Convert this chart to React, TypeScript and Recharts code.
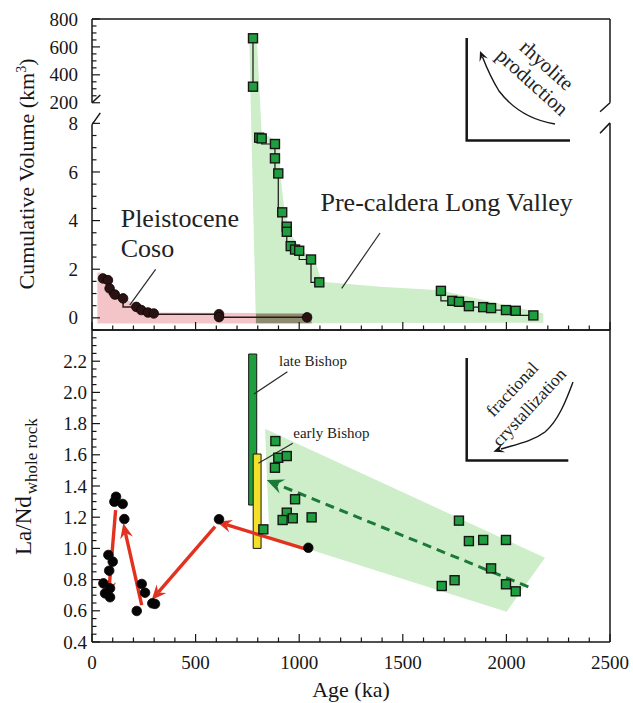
import React from "react";
import {
  ComposedChart,
  XAxis,
  YAxis,
  Area,
  Line,
  Scatter,
  ReferenceLine,
  ReferenceArea,
} from "recharts";

const INK = "#161616";
const SERIF = '"Liberation Serif", "Times New Roman", Times, serif';
const GREEN = "#1f9e3f";
const GREEN_FIELD = "#cdeec9";
const PINK_FIELD = "#f3c5c8";
const OVERLAP = "#8f8b6e";
const RED = "#e2321f";
const DARK_GREEN = "#1c7a38";
const YELLOW = "#f4e02a";

// ---------- top panel: cumulative volume (km3) vs age (ka)
const cosoVolAge = [53, 77, 85, 110, 150, 214, 238, 270, 298, 613, 613, 1038];
const cosoVol = [1.62, 1.55, 1.21, 0.96, 0.8, 0.45, 0.32, 0.22, 0.18, 0.15, 0.03, 0.02];

const bishopVolAge = [777, 777];
const bishopVol = [662, 315];
const lvVolAgeA = [807, 819, 883, 883, 899, 918, 940, 940, 959, 980, 1000, 1057, 1097];
const lvVolA = [7.41, 7.38, 7.15, 6.56, 5.94, 4.34, 3.75, 3.54, 2.95, 2.81, 2.76, 2.4, 1.46];
const lvVolAgeB = [1684, 1739, 1771, 1819, 1888, 1926, 1998, 2045, 2130];
const lvVolB = [1.11, 0.7, 0.66, 0.48, 0.44, 0.4, 0.32, 0.29, 0.1];

const lvBandAge = [759, 791, 795, 819, 907, 908, 931, 956, 1012, 1076, 1109, 1390, 1680, 2178];
const lvBandLow = [650, -0.22, -0.22, -0.22, -0.22, -0.22, -0.22, -0.22, -0.22, -0.22, -0.22, -0.21, -0.21, -0.2];
const lvBandHigh = [650, 668, 670, 7.59, 7.24, 5.94, 4.29, 3.47, 2.78, 2.37, 1.48, 1.28, 1.14, 0.18];

const cosoBandAge = [26, 55, 90, 150, 215, 300, 1060];
const cosoBandHigh = [1.87, 1.85, 1.35, 0.85, 0.5, 0.22, 0.18];
const overlapAge = [791, 1060];
const overlapHigh = [0.18, 0.18];

// ---------- bottom panel: La/Nd (whole rock) vs age (ka)
const cosoLaNdAge = [116, 108, 148, 156, 79, 100, 83, 55, 87, 63, 87, 240, 256, 216, 291, 304, 613, 1044];
const cosoLaNd = [1.331, 1.299, 1.285, 1.188, 0.958, 0.915, 0.857, 0.776, 0.744, 0.712, 0.687, 0.772, 0.716, 0.599, 0.648, 0.644, 1.187, 1.004];

const lvLaNdAge = [885, 899, 883, 940, 980, 940, 920, 969, 1060, 827, 1771, 1819, 1888, 1998, 1926, 1750, 1688, 1998, 2045];
const lvLaNd = [1.688, 1.581, 1.517, 1.592, 1.315, 1.229, 1.182, 1.193, 1.199, 1.122, 1.178, 1.047, 1.054, 1.054, 0.872, 0.796, 0.759, 0.77, 0.725];

const lvFieldAge = [835, 856, 2001, 2186];
const lvFieldLow = [1.765, 1.075, 0.594, 0.94];
const lvFieldHigh = [1.765, 1.754, 1.053, 0.94];

const lateBishopAge = [756, 795];
const lateBishopLaNd = [1.278, 2.246];
const earlyBishopAge = [778, 816];
const earlyBishopLaNd = [1.0, 1.605];

const redArrowFrom = [[114, 1.246], [240, 0.637], [594, 1.139], [1036, 0.994]];
const redArrowTo = [[79, 0.69], [151, 1.161], [288, 0.669], [602, 1.171]];
const trendFrom = [2106, 0.754];
const trendTo = [843, 1.438];

// ---------- broken volume axis: lower 0-8.5 linear, upper 139-800 compressed
const BREAK_LO = 8.5;
const BREAK_HI = 139.4;
const UPPER_K = 0.1395 / 24.3;
const tv = (v: number) => (v <= BREAK_LO ? v : BREAK_LO + (v - BREAK_HI) * UPPER_K);
const vt = (t: number) => (t <= BREAK_LO ? t : BREAK_HI + (t - BREAK_LO) / UPPER_K);
const VOL_TOP = tv(800);

const steps = (from: number, to: number, step: number) =>
  Array.from({ length: Math.round((to - from) / step) + 1 }, (_, i) => +(from + i * step).toFixed(4));
const isMult = (v: number, m: number) => Math.abs(v / m - Math.round(v / m)) < 1e-4;

const ageTicks = steps(0, 2500, 100);
const volTicks = [...steps(0, 8, 0.5), ...steps(200, 800, 50).map(tv)];
const laNdTicks = steps(0.4, 2.4, 0.05);

const rows = (xs: number[], ys: number[], f = (v: number) => v) => xs.map((x, i) => ({ x, y: f(ys[i]) }));
const bandRows = (xs: number[], lo: number[], hi: number[], f = (v: number) => v) =>
  xs.map((x, i) => ({ x, range: [f(lo[i]), f(hi[i])] }));

type Side = "left" | "right" | "top" | "bottom";
function makeTick(side: Side, isMajor: (v: number) => boolean, label?: (v: number) => string | null, gap = 0) {
  return function Tick(props: any) {
    const { x, y, payload } = props;
    const v = payload.value;
    const major = isMajor(v);
    const len = major ? 8 : 4.5;
    let x2 = x;
    let y2 = y;
    if (side === "left") x2 = x + len;
    else if (side === "right") x2 = x - len;
    else if (side === "top") y2 = y + len;
    else y2 = y - len;
    const txt = label && major ? label(v) : null;
    return (
      <g>
        <line x1={x} y1={y} x2={x2} y2={y2} stroke={INK} strokeWidth={1.2} />
        {txt != null && side === "left" && (
          <text x={x - gap} y={y} dy="0.35em" textAnchor="end" fontFamily={SERIF} fontSize={19} fill={INK}>
            {txt}
          </text>
        )}
        {txt != null && side === "bottom" && (
          <text x={x} y={y + gap} textAnchor="middle" fontFamily={SERIF} fontSize={19} fill={INK}>
            {txt}
          </text>
        )}
      </g>
    );
  };
}

function arrowShape(color: string, width: number, head: number, half: number, notch: number, dash?: string) {
  return function ArrowLine(p: any) {
    const { x1, y1, x2, y2 } = p;
    const L = Math.hypot(x2 - x1, y2 - y1) || 1;
    const ux = (x2 - x1) / L;
    const uy = (y2 - y1) / L;
    const bx = x2 - ux * head;
    const by = y2 - uy * head;
    const pts = [
      [x2, y2],
      [bx - uy * half, by + ux * half],
      [x2 - ux * notch, y2 - uy * notch],
      [bx + uy * half, by - ux * half],
    ]
      .map((q) => q.join(","))
      .join(" ");
    return (
      <g>
        <line x1={x1} y1={y1} x2={x2 - ux * notch} y2={y2 - uy * notch} stroke={color} strokeWidth={width} strokeDasharray={dash} />
        <polygon points={pts} fill={color} />
      </g>
    );
  };
}

function headAt(tx: number, ty: number, fx: number, fy: number, len: number, half: number) {
  const L = Math.hypot(tx - fx, ty - fy);
  const ux = (tx - fx) / L;
  const uy = (ty - fy) / L;
  const bx = tx - ux * len;
  const by = ty - uy * len;
  return `${tx},${ty} ${bx - uy * half},${by + ux * half} ${tx - ux * len * 0.6},${ty - uy * len * 0.6} ${bx + uy * half},${by - ux * half}`;
}

const Square = (props: any) => {
  const { cx, cy } = props;
  return <rect x={cx - 4.5} y={cy - 4.5} width={9} height={9} fill={GREEN} stroke={INK} strokeWidth={1.4} />;
};
const cosoDot = (fill: string) => (props: any) => <circle cx={props.cx} cy={props.cy} r={4.8} fill={fill} stroke="#0d0505" strokeWidth={0.8} />;

const leader = { stroke: "#2a2a2a", strokeWidth: 1.2 };

function VolumePanel() {
  const xTickTop = makeTick("top", (v) => v % 500 === 0);
  const xTickBottom = makeTick("bottom", (v) => v % 500 === 0);
  const majorVol = (t: number) => (t <= BREAK_LO ? isMult(t, 2) : isMult(Math.round(vt(t)), 200));
  const yTickLeft = makeTick("left", majorVol, (t) => String(Math.round(vt(t))), 14);
  const yTickRight = makeTick("right", majorVol);
  const frame = (a: [number, number], b: [number, number]) => (
    <ReferenceLine
      xAxisId="b"
      yAxisId="l"
      ifOverflow="visible"
      segment={[{ x: a[0], y: a[1] }, { x: b[0], y: b[1] }]}
      stroke={INK}
      strokeWidth={1.5}
    />
  );
  return (
    <ComposedChart width={633} height={331} margin={{ top: 18, right: 22, bottom: 0, left: 0 }}>
      <XAxis xAxisId="t" orientation="top" dataKey="x" type="number" domain={[0, 2500]} ticks={ageTicks} interval={0}
        height={1} tickSize={0} tickMargin={0} tickLine={false} tick={xTickTop} axisLine={{ stroke: INK, strokeWidth: 1.5 }} />
      <XAxis xAxisId="b" orientation="bottom" dataKey="x" type="number" domain={[0, 2500]} ticks={ageTicks} interval={0}
        height={1} tickSize={0} tickMargin={0} tickLine={false} tick={xTickBottom} axisLine={{ stroke: INK, strokeWidth: 1.5 }} />
      <YAxis yAxisId="l" dataKey="y" type="number" domain={[-0.5, VOL_TOP]} ticks={volTicks} interval={0} width={92}
        tickSize={0} tickMargin={0} tickLine={false} tick={yTickLeft} axisLine={false} />
      <YAxis yAxisId="r" orientation="right" dataKey="y" type="number" domain={[-0.5, VOL_TOP]} ticks={volTicks} interval={0}
        width={1} tickSize={0} tickMargin={0} tickLine={false} tick={yTickRight} axisLine={false} />

      <Area xAxisId="b" yAxisId="l" data={bandRows(cosoBandAge, cosoBandAge.map(() => -0.23), cosoBandHigh)} dataKey="range"
        type="linear" stroke="none" fill={PINK_FIELD} fillOpacity={1} dot={false} activeDot={false} isAnimationActive={false} />
      <Area xAxisId="b" yAxisId="l" data={bandRows(lvBandAge, lvBandLow, lvBandHigh, tv)} dataKey="range"
        type="linear" stroke="none" fill={GREEN_FIELD} fillOpacity={1} dot={false} activeDot={false} isAnimationActive={false} />
      <Area xAxisId="b" yAxisId="l" data={bandRows(overlapAge, [-0.22, -0.22], overlapHigh)} dataKey="range"
        type="linear" stroke="none" fill={OVERLAP} fillOpacity={1} dot={false} activeDot={false} isAnimationActive={false} />

      {frame([0, -0.5], [0, 7.95])}
      {frame([0, tv(200)], [0, VOL_TOP])}
      {frame([2500, -0.5], [2500, 8.0])}
      {frame([2500, tv(200)], [2500, VOL_TOP])}
      {frame([0, 7.95], [40, 8.43])}
      {frame([0, tv(200)], [40, tv(200) + 0.32])}
      {frame([2452, 7.59], [2500, 8.02])}
      {frame([2452, 8.48], [2500, tv(200)])}

      <ReferenceLine xAxisId="b" yAxisId="l" ifOverflow="visible" segment={[{ x: 307, y: 1.99 }, { x: 182, y: 0.52 }]} {...leader} />
      <ReferenceLine xAxisId="b" yAxisId="l" ifOverflow="visible" segment={[{ x: 1390, y: 3.49 }, { x: 1205, y: 1.21 }]} {...leader} />

      <Line xAxisId="b" yAxisId="l" data={rows(cosoVolAge, cosoVol)} dataKey="y" type="stepBefore" stroke="#2b1a1a"
        strokeWidth={1.5} dot={false} activeDot={false} isAnimationActive={false} />
      <Line xAxisId="b" yAxisId="l" data={rows(bishopVolAge, bishopVol, tv)} dataKey="y" type="linear" stroke={INK}
        strokeWidth={1.2} dot={false} activeDot={false} isAnimationActive={false} />
      <Line xAxisId="b" yAxisId="l" data={rows(lvVolAgeA, lvVolA)} dataKey="y" type="stepBefore" stroke={INK}
        strokeWidth={1.2} dot={false} activeDot={false} isAnimationActive={false} />
      <Line xAxisId="b" yAxisId="l" data={rows(lvVolAgeB, lvVolB)} dataKey="y" type="stepBefore" stroke={INK}
        strokeWidth={1.2} dot={false} activeDot={false} isAnimationActive={false} />

      <Scatter xAxisId="b" yAxisId="l" data={rows(cosoVolAge, cosoVol)} shape={cosoDot("#2a1212")} isAnimationActive={false} />
      <Scatter xAxisId="b" yAxisId="l" data={rows(bishopVolAge, bishopVol, tv)} shape={Square} isAnimationActive={false} />
      <Scatter xAxisId="b" yAxisId="l" data={rows(lvVolAgeA, lvVolA)} shape={Square} isAnimationActive={false} />
      <Scatter xAxisId="b" yAxisId="l" data={rows(lvVolAgeB, lvVolB)} shape={Square} isAnimationActive={false} />

      <text transform="translate(34,174) rotate(-90)" textAnchor="middle" fontFamily={SERIF} fontSize={22} fill={INK}>
        Cumulative Volume (km<tspan dy={-8} fontSize={14}>3</tspan>
        <tspan dy={8}>)</tspan>
      </text>
      <text x={120.7} y={226.7} fontFamily={SERIF} fontSize={26} fill="#222">Pleistocene</text>
      <text x={120.7} y={257.3} fontFamily={SERIF} fontSize={26} fill="#222">Coso</text>
      <text x={320.5} y={211} fontFamily={SERIF} fontSize={26} fill="#222">Pre-caldera Long Valley</text>

      <g>
        <path d="M466.7,38 L466.7,140.5 L570,140.5" fill="none" stroke={INK} strokeWidth={2.5} />
        <path d="M555,124 C530,120 512,108 499,91 C491,78 486,66 482.5,57" fill="none" stroke={INK} strokeWidth={1.4} />
        <polygon points={headAt(480, 51, 484, 61, 10, 4.5)} fill={INK} />
        <text transform="translate(547,65) rotate(42)" textAnchor="middle" dy="0.35em" fontFamily={SERIF} fontSize={20.5} fill="#222">rhyolite</text>
        <text transform="translate(532.5,81.7) rotate(42)" textAnchor="middle" dy="0.35em" fontFamily={SERIF} fontSize={20.5} fill="#222">production</text>
      </g>
    </ComposedChart>
  );
}

function LaNdPanel() {
  const xTickTop = makeTick("top", (v) => v % 500 === 0);
  const xTickBottom = makeTick("bottom", (v) => v % 500 === 0, (v) => String(v), 27);
  const majorLaNd = (v: number) => Math.round(v * 100) % 20 === 0;
  const yTickLeft = makeTick("left", majorLaNd, (v) => (v > 2.35 ? null : v.toFixed(1)), 5);
  const yTickRight = makeTick("right", majorLaNd);
  const redArrow = arrowShape(RED, 3.4, 15, 6.5, 10);
  const trendArrow = arrowShape(DARK_GREEN, 3, 17, 7.5, 11, "9 6");
  return (
    <ComposedChart width={633} height={374} margin={{ top: 0, right: 22, bottom: 0, left: 0 }}>
      <XAxis xAxisId="t" orientation="top" dataKey="x" type="number" domain={[0, 2500]} ticks={ageTicks} interval={0}
        height={1} tickSize={0} tickMargin={0} tickLine={false} tick={xTickTop} axisLine={{ stroke: INK, strokeWidth: 1.5 }} />
      <XAxis xAxisId="b" orientation="bottom" dataKey="x" type="number" domain={[0, 2500]} ticks={ageTicks} interval={0}
        height={61} tickSize={0} tickMargin={0} tickLine={false} tick={xTickBottom} axisLine={{ stroke: INK, strokeWidth: 1.5 }} />
      <YAxis yAxisId="l" dataKey="y" type="number" domain={[0.4, 2.4]} ticks={laNdTicks} interval={0} width={92}
        tickSize={0} tickMargin={0} tickLine={false} tick={yTickLeft} axisLine={{ stroke: INK, strokeWidth: 1.5 }} />
      <YAxis yAxisId="r" orientation="right" dataKey="y" type="number" domain={[0.4, 2.4]} ticks={laNdTicks} interval={0}
        width={1} tickSize={0} tickMargin={0} tickLine={false} tick={yTickRight} axisLine={{ stroke: INK, strokeWidth: 1.5 }} />

      <Area xAxisId="b" yAxisId="l" data={bandRows(lvFieldAge, lvFieldLow, lvFieldHigh)} dataKey="range"
        type="linear" stroke="none" fill={GREEN_FIELD} fillOpacity={1} dot={false} activeDot={false} isAnimationActive={false} />

      <Scatter xAxisId="b" yAxisId="l" data={rows(lvLaNdAge, lvLaNd)} shape={Square} isAnimationActive={false} />

      <ReferenceArea xAxisId="b" yAxisId="l" x1={lateBishopAge[0]} x2={lateBishopAge[1]} y1={lateBishopLaNd[0]} y2={lateBishopLaNd[1]}
        fill={GREEN} fillOpacity={1} stroke={INK} strokeWidth={1} ifOverflow="visible" />
      <ReferenceArea xAxisId="b" yAxisId="l" x1={earlyBishopAge[0]} x2={earlyBishopAge[1]} y1={earlyBishopLaNd[0]} y2={earlyBishopLaNd[1]}
        fill={YELLOW} fillOpacity={1} stroke={INK} strokeWidth={1} ifOverflow="visible" />

      <Scatter xAxisId="b" yAxisId="l" data={rows(cosoLaNdAge, cosoLaNd)} shape={cosoDot("#050505")} isAnimationActive={false} />

      {redArrowFrom.map((a, i) => (
        <ReferenceLine key={`red-${i}`} xAxisId="b" yAxisId="l" ifOverflow="visible"
          segment={[{ x: a[0], y: a[1] }, { x: redArrowTo[i][0], y: redArrowTo[i][1] }]} shape={redArrow} />
      ))}
      <ReferenceLine xAxisId="b" yAxisId="l" ifOverflow="visible"
        segment={[{ x: trendFrom[0], y: trendFrom[1] }, { x: trendTo[0], y: trendTo[1] }]} shape={trendArrow} />

      <ReferenceLine xAxisId="b" yAxisId="l" ifOverflow="visible" segment={[{ x: 943, y: 2.133 }, { x: 782, y: 1.99 }]} {...leader} />
      <ReferenceLine xAxisId="b" yAxisId="l" ifOverflow="visible" segment={[{ x: 969, y: 1.674 }, { x: 803, y: 1.546 }]} {...leader} />

      <text x={279} y={37} fontFamily={SERIF} fontSize={15} fill="#222">late Bishop</text>
      <text x={293.3} y={109} fontFamily={SERIF} fontSize={15} fill="#222">early Bishop</text>

      <text transform="translate(31,226) rotate(-90)" fontFamily={SERIF} fontSize={23} fill={INK}>
        La/Nd<tspan dx={2} dy={6} fontSize={17}>whole rock</tspan>
      </text>
      <text x={351} y={368} textAnchor="middle" fontFamily={SERIF} fontSize={22} fill={INK}>Age (ka)</text>

      <g>
        <path d="M466.7,29 L466.7,131.5 L568.3,131.5" fill="none" stroke={INK} strokeWidth={2.5} />
        <path d="M573,53 C566,72 558,92 545,103 C533,112 518,115 501,120" fill="none" stroke={INK} strokeWidth={1.4} />
        <polygon points={headAt(493.3, 122.7, 505, 118.5, 11, 4.5)} fill={INK} />
        <text transform="translate(512,60) rotate(-47)" textAnchor="middle" dy="0.35em" fontFamily={SERIF} fontSize={17.5} fill="#222">fractional</text>
        <text transform="translate(529,78) rotate(-47)" textAnchor="middle" dy="0.35em" fontFamily={SERIF} fontSize={17.5} fill="#222">crystallization</text>
      </g>
    </ComposedChart>
  );
}

export default function App() {
  return (
    <div style={{ position: "absolute", left: 0, top: 0, width: 633, height: 703, background: "#fff" }}>
      <div style={{ position: "absolute", left: 0, top: 0 }}>
        <VolumePanel />
      </div>
      <div style={{ position: "absolute", left: 0, top: 329 }}>
        <LaNdPanel />
      </div>
    </div>
  );
}
